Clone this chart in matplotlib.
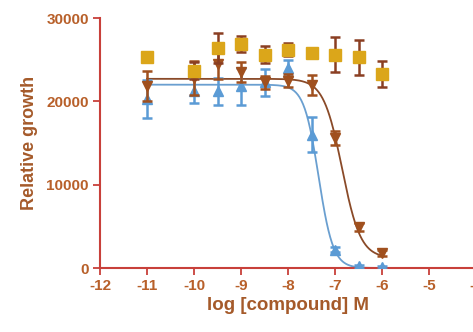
import numpy as np
import matplotlib
matplotlib.use("Agg")
import matplotlib.pyplot as plt

plt.rcParams['font.family'] = ['Liberation Sans', 'DejaVu Sans']

# log concentrations
x_gold = [-11, -10, -9.5, -9, -8.5, -8, -7.5, -7, -6.5, -6]
y_gold = [25300, 23700, 26400, 26900, 25600, 26200, 25800, 25600, 25300, 23300]
e_gold = [300, 1000, 1800, 1000, 1000, 800, 300, 2100, 2100, 1600]

x_brown = [-11, -10, -9.5, -9, -8.5, -8, -7.5, -7, -6.5, -6]
y_brown = [21800, 22800, 24500, 23500, 22300, 22500, 22000, 15600, 4900, 1800]
e_brown = [1800, 2000, 1800, 1200, 800, 800, 1200, 800, 500, 400]

x_blue = [-11, -10, -9.5, -9, -8.5, -8, -7.5, -7, -6.5, -6]
y_blue = [20300, 21300, 21200, 21800, 22300, 24000, 16000, 2200, 200, 100]
e_blue = [2300, 1500, 1600, 2200, 1600, 1000, 2100, 300, 200, 200]

# fitted dose-response parameters (top, bottom, logIC50, hill)
fit_brown = (22700, 1200, -6.85, 2.2)
fit_blue = (22000, 0, -7.35, 2.8)

xticks = [-12, -11, -10, -9, -8, -7, -6, -5, -4]
yticks = [0, 10000, 20000, 30000]

C_GOLD = "#dba61a"
C_GOLD_ERR = "#8a3e22"
C_BROWN = "#a0501e"
C_BROWN_LINE = "#8a4a28"
C_BLUE = "#5b9bd5"
C_BLUE_LINE = "#6a9fd0"
C_AXIS = "#c8403a"
C_TICKLBL = "#b8602a"
C_LABEL = "#a55a2a"


def logistic(x, p):
    top, bottom, logic50, hill = p
    return bottom + (top - bottom) / (1 + 10 ** (hill * (x - logic50)))


fig = plt.figure(figsize=(4.73, 3.32), dpi=100)
ax = fig.add_axes([100 / 473, (332 - 268) / 332, (476 - 100) / 473, (268 - 18) / 332])

xx = np.linspace(-11, -6, 400)
ax.plot(xx, logistic(xx, fit_brown), color=C_BROWN_LINE, lw=1.3, zorder=2)
ax.plot(xx, logistic(xx, fit_blue), color=C_BLUE_LINE, lw=1.3, zorder=2)

ax.errorbar(x_blue, y_blue, yerr=e_blue, fmt='^', color=C_BLUE, ecolor=C_BLUE,
            ms=7, capsize=3.5, elinewidth=1.8, capthick=1.8, zorder=3)
ax.errorbar(x_brown, y_brown, yerr=e_brown, fmt='v', color=C_BROWN, ecolor=C_BROWN,
            ms=7, capsize=3.5, elinewidth=1.8, capthick=1.8, zorder=4)
ax.errorbar(x_gold, y_gold, yerr=e_gold, fmt='s', color=C_GOLD, ecolor=C_GOLD_ERR,
            ms=8, capsize=3.5, elinewidth=1.8, capthick=1.8, zorder=5)

ax.set_xlim(-12, -4)
ax.set_ylim(0, 30000)
ax.set_xticks(xticks)
ax.set_yticks(yticks)
ax.set_xticklabels([str(t) for t in xticks])
ax.set_yticklabels([str(t) for t in yticks])

for s in ['top', 'right']:
    ax.spines[s].set_visible(False)
for s in ['left', 'bottom']:
    ax.spines[s].set_color(C_AXIS)
    ax.spines[s].set_linewidth(1.5)
ax.tick_params(axis='both', colors=C_AXIS, length=5, width=1.3, pad=3,
               labelcolor=C_TICKLBL, labelsize=11)
for lbl in ax.get_xticklabels() + ax.get_yticklabels():
    lbl.set_fontweight('bold')

ax.set_xlabel("log [compound] M", color=C_LABEL, fontsize=13.5, fontweight='bold', labelpad=3)
ax.set_ylabel("Relative growth", color=C_LABEL, fontsize=13, fontweight='bold', labelpad=6)
ax.patch.set_alpha(0)

fig.savefig("out.png", dpi=100)
